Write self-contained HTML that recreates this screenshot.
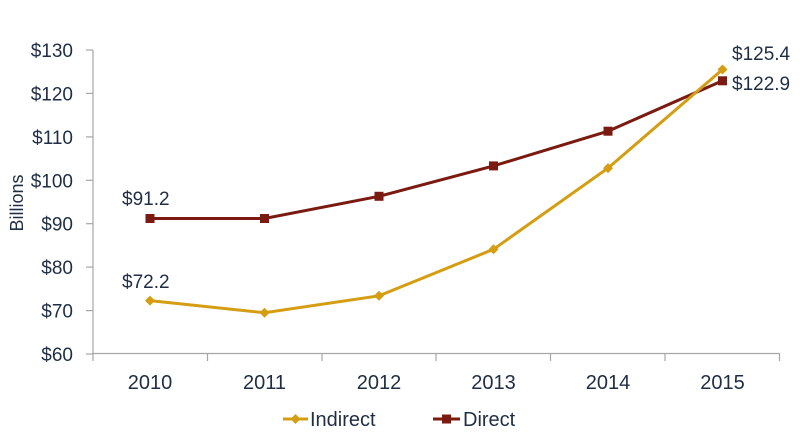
<!DOCTYPE html>
<html><head><style>
body{margin:0;background:#fff;}
svg text{font-family:"Liberation Sans",sans-serif;fill:#1f2d45;}
</style></head><body>
<svg width="800" height="434" viewBox="0 0 800 434" xmlns="http://www.w3.org/2000/svg">
<g stroke="#a6a6a6" stroke-width="1.2">
<line x1="93" y1="50" x2="93" y2="354"/>
<line x1="93" y1="353.5" x2="780" y2="353.5"/>
<line x1="86" y1="50" x2="93" y2="50"/>
<line x1="86" y1="93.4" x2="93" y2="93.4"/>
<line x1="86" y1="136.9" x2="93" y2="136.9"/>
<line x1="86" y1="180.3" x2="93" y2="180.3"/>
<line x1="86" y1="223.7" x2="93" y2="223.7"/>
<line x1="86" y1="267.1" x2="93" y2="267.1"/>
<line x1="86" y1="310.6" x2="93" y2="310.6"/>
<line x1="86" y1="354" x2="93" y2="354"/>
<line x1="93" y1="354" x2="93" y2="361"/>
<line x1="207.5" y1="354" x2="207.5" y2="361"/>
<line x1="322" y1="354" x2="322" y2="361"/>
<line x1="436" y1="354" x2="436" y2="361"/>
<line x1="550.5" y1="354" x2="550.5" y2="361"/>
<line x1="665" y1="354" x2="665" y2="361"/>
<line x1="779.5" y1="354" x2="779.5" y2="361"/>
</g>
<g font-size="19" text-anchor="end">
<text x="73" y="57">$130</text>
<text x="73" y="100.4">$120</text>
<text x="73" y="143.9">$110</text>
<text x="73" y="187.3">$100</text>
<text x="73" y="230.7">$90</text>
<text x="73" y="274.1">$80</text>
<text x="73" y="317.6">$70</text>
<text x="73" y="361">$60</text>
</g>
<text transform="translate(23,203) rotate(-90)" font-size="18" text-anchor="middle">Billions</text>
<g font-size="20" text-anchor="middle">
<text x="150" y="389">2010</text>
<text x="264.5" y="389">2011</text>
<text x="379" y="389">2012</text>
<text x="493.5" y="389">2013</text>
<text x="608" y="389">2014</text>
<text x="722.5" y="389">2015</text>
</g>
<polyline fill="none" stroke="#7b1a10" stroke-width="3" points="150,218.5 264.5,218.5 379,196.3 493.5,165.9 608,131.2 722.5,80.8"/>
<g fill="#7b1a10">
<rect x="145.5" y="214" width="9" height="9"/>
<rect x="260" y="214" width="9" height="9"/>
<rect x="374.5" y="191.8" width="9" height="9"/>
<rect x="489" y="161.4" width="9" height="9"/>
<rect x="603.5" y="126.7" width="9" height="9"/>
<rect x="718" y="76.3" width="9" height="9"/>
</g>
<polyline fill="none" stroke="#d49d12" stroke-width="3" points="150,300.6 264.5,312.7 379,295.8 493.5,249.3 608,168.1 722.5,69.5"/>
<g fill="#d49d12">
<path d="M150 295.6 L155 300.6 L150 305.6 L145 300.6Z"/>
<path d="M264.5 307.7 L269.5 312.7 L264.5 317.7 L259.5 312.7Z"/>
<path d="M379 290.8 L384 295.8 L379 300.8 L374 295.8Z"/>
<path d="M493.5 244.3 L498.5 249.3 L493.5 254.3 L488.5 249.3Z"/>
<path d="M608 163.1 L613 168.1 L608 173.1 L603 168.1Z"/>
<path d="M722.5 64.5 L727.5 69.5 L722.5 74.5 L717.5 69.5Z"/>
</g>
<g font-size="19">
<text x="122" y="205">$91.2</text>
<text x="122" y="288">$72.2</text>
<text x="732" y="60">$125.4</text>
<text x="732" y="90">$122.9</text>
</g>
<line x1="283" y1="419" x2="308" y2="419" stroke="#d49d12" stroke-width="3"/>
<path d="M295.5 414 L300.5 419 L295.5 424 L290.5 419Z" fill="#d49d12"/>
<text x="310" y="426" font-size="20">Indirect</text>
<line x1="433" y1="419" x2="460" y2="419" stroke="#7b1a10" stroke-width="3"/>
<rect x="442" y="414.5" width="9" height="9" fill="#7b1a10"/>
<text x="463" y="426" font-size="20">Direct</text>
</svg>
</body></html>
